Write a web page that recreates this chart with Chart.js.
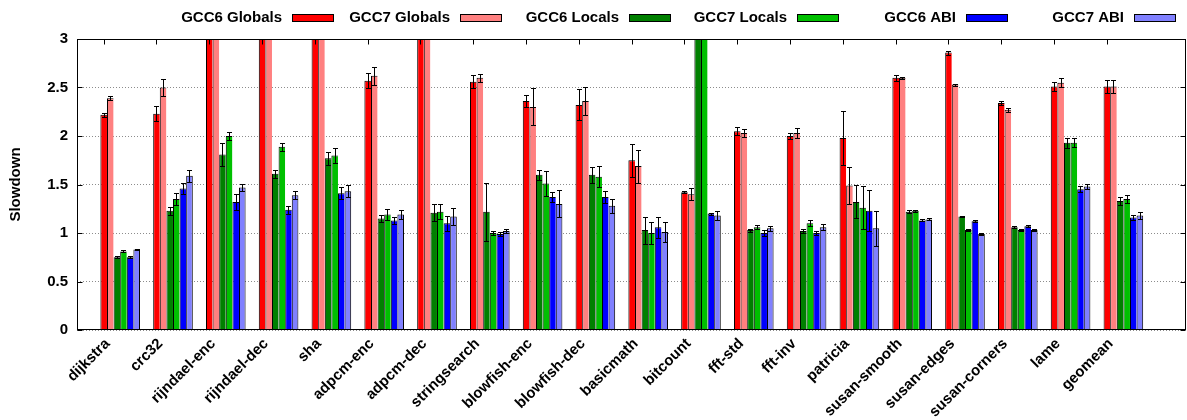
<!DOCTYPE html>
<html>
<head>
<meta charset="utf-8">
<title>Slowdown per benchmark</title>
<script src="https://cdn.jsdelivr.net/npm/chart.js@4.4.1/dist/chart.umd.min.js"></script>
<style>
  html, body { margin: 0; padding: 0; background: #ffffff; }
  #wrap { width: 1187px; height: 420px; position: relative; }
</style>
</head>
<body>
<div id="wrap"><canvas id="chart" width="1187" height="420"></canvas></div>
<script>
// Benchmarks on the x axis
const benchmarks = ['dijkstra', 'crc32', 'rijndael-enc', 'rijndael-dec', 'sha', 'adpcm-enc', 'adpcm-dec',
  'stringsearch', 'blowfish-enc', 'blowfish-dec', 'basicmath', 'bitcount', 'fft-std', 'fft-inv',
  'patricia', 'susan-smooth', 'susan-edges', 'susan-corners', 'lame', 'geomean'];

// Series names
const seriesNames = ['GCC6 Globals', 'GCC7 Globals', 'GCC6 Locals', 'GCC7 Locals', 'GCC6 ABI', 'GCC7 ABI'];

// Mean slowdown per benchmark (values above 3 run off the top of the plot)
const gcc6Globals = [2.22, 2.23, 4.0, 4.0, 4.0, 2.57, 4.0, 2.56, 2.36, 2.32, 1.75, 1.42, 2.05, 2.00, 1.98, 2.60, 2.86, 2.34, 2.51, 2.51];
const gcc7Globals = [2.39, 2.50, 4.2, 4.2, 4.2, 2.62, 4.2, 2.60, 2.30, 2.36, 1.69, 1.40, 2.03, 2.03, 1.49, 2.60, 2.53, 2.27, 2.55, 2.51];
const gcc6Locals  = [0.75, 1.23, 1.81, 1.61, 1.77, 1.15, 1.21, 1.22, 1.60, 1.60, 1.03, 3.3, 1.03, 1.02, 1.32, 1.22, 1.17, 1.06, 1.93, 1.33];
const gcc7Locals  = [0.81, 1.35, 2.00, 1.89, 1.80, 1.19, 1.22, 1.00, 1.51, 1.58, 1.00, 3.3, 1.06, 1.10, 1.26, 1.23, 1.03, 1.03, 1.93, 1.35];
const gcc6Abi     = [0.75, 1.46, 1.32, 1.24, 1.41, 1.13, 1.10, 0.99, 1.37, 1.37, 1.06, 1.20, 1.00, 1.00, 1.23, 1.13, 1.12, 1.07, 1.45, 1.16];
const gcc7Abi     = [0.83, 1.59, 1.47, 1.39, 1.43, 1.19, 1.17, 1.02, 1.30, 1.28, 1.01, 1.18, 1.05, 1.06, 1.05, 1.14, 0.99, 1.03, 1.48, 1.18];

// Error bar half-widths (same order as the means)
const gcc6GlobalsErr = [0.02, 0.08, 0, 0, 0, 0.08, 0, 0.07, 0.06, 0.16, 0.17, 0.01, 0.04, 0.03, 0.28, 0.03, 0.02, 0.02, 0.05, 0.065];
const gcc7GlobalsErr = [0.02, 0.09, 0, 0, 0, 0.09, 0, 0.04, 0.19, 0.14, 0.17, 0.06, 0.04, 0.05, 0.19, 0.01, 0.01, 0.02, 0.05, 0.065];
const gcc6LocalsErr  = [0.01, 0.04, 0.12, 0.04, 0.07, 0.04, 0.09, 0.30, 0.05, 0.08, 0.14, 0, 0.015, 0.02, 0.17, 0.015, 0.01, 0.01, 0.05, 0.045];
const gcc7LocalsErr  = [0.01, 0.06, 0.04, 0.04, 0.08, 0.06, 0.08, 0.02, 0.13, 0.11, 0.11, 0, 0.02, 0.03, 0.22, 0.01, 0.01, 0.01, 0.045, 0.045];
const gcc6AbiErr     = [0.01, 0.06, 0.08, 0.04, 0.06, 0.04, 0.08, 0.025, 0.05, 0.065, 0.11, 0.01, 0.03, 0.025, 0.21, 0.01, 0.01, 0.01, 0.03, 0.03];
const gcc7AbiErr     = [0.01, 0.06, 0.035, 0.04, 0.06, 0.05, 0.09, 0.02, 0.14, 0.075, 0.10, 0.05, 0.025, 0.03, 0.18, 0.01, 0.01, 0.01, 0.025, 0.04];

// Y axis range and step
const yMin = 0, yMax = 3, yStep = 0.5;

const seriesValues = [gcc6Globals, gcc7Globals, gcc6Locals, gcc7Locals, gcc6Abi, gcc7Abi];
const seriesErrors = [gcc6GlobalsErr, gcc7GlobalsErr, gcc6LocalsErr, gcc7LocalsErr, gcc6AbiErr, gcc7AbiErr];
const seriesColors = ['#ff0000', '#ff8080', '#008000', '#00c000', '#0000ff', '#8080ff'];

const FONT = "'Liberation Sans', Arial, Helvetica, sans-serif";

// Each group sits at integer x; the label tick sits under the first bar of the group
const TICK_SHIFT = -0.3125;

const lastSeries = seriesNames.length - 1;
const datasets = seriesNames.map((name, s) => ({
  label: name,
  data: seriesValues[s].map((v, i) => ({ x: i, y: v })),
  errors: seriesErrors[s],
  backgroundColor: seriesColors[s],
  borderColor: '#000000',
  // neighbouring bars share a single outline
  borderWidth: { top: 1, left: 1, right: s === lastSeries ? 1 : 0, bottom: 0 },
  borderSkipped: 'start',
  inflateAmount: 0,
  categoryPercentage: 0.75,
  barPercentage: 1.0
}));

// Vertical error bars with small caps, clipped to the plot
const errorBars = {
  id: 'errorBars',
  afterDatasetsDraw(chart) {
    const { ctx, chartArea: a, scales: { y } } = chart;
    ctx.save();
    ctx.beginPath();
    ctx.rect(a.left, a.top, a.right - a.left, a.bottom - a.top);
    ctx.clip();
    ctx.strokeStyle = '#000000';
    ctx.lineWidth = 1;
    chart.data.datasets.forEach((ds, di) => {
      const meta = chart.getDatasetMeta(di);
      meta.data.forEach((bar, j) => {
        const e = ds.errors[j];
        if (!e) return;
        const v = ds.data[j].y;
        const x = Math.round(bar.x) + 0.5;
        const hi = Math.round(y.getPixelForValue(v + e)) + 0.5;
        const lo = Math.round(y.getPixelForValue(v - e)) + 0.5;
        ctx.beginPath();
        ctx.moveTo(x, hi); ctx.lineTo(x, lo);
        ctx.moveTo(x - 2.5, hi); ctx.lineTo(x + 2.5, hi);
        ctx.moveTo(x - 2.5, lo); ctx.lineTo(x + 2.5, lo);
        ctx.stroke();
      });
    });
    ctx.restore();
  }
};

// Plot border with inward tick marks on all sides
const frame = {
  id: 'frame',
  afterDatasetsDraw(chart) {
    const { ctx, chartArea: a, scales: { x, y } } = chart;
    ctx.save();
    ctx.strokeStyle = '#000000';
    ctx.lineWidth = 1;
    const L = a.left + 0.5, R = a.right - 0.5, T = a.top + 0.5, B = a.bottom - 0.5;
    ctx.strokeRect(L, T, R - L, B - T);
    ctx.beginPath();
    x.ticks.forEach(t => {
      const px = Math.round(x.getPixelForValue(t.value)) + 0.5;
      ctx.moveTo(px, T); ctx.lineTo(px, T + 5);
    });
    y.ticks.forEach(t => {
      const py = Math.round(y.getPixelForValue(t.value)) + 0.5;
      ctx.moveTo(L, py); ctx.lineTo(L + 5, py);
      ctx.moveTo(R, py); ctx.lineTo(R - 5, py);
    });
    ctx.stroke();
    ctx.restore();
  }
};

// Key across the top: name, then a colour swatch
const keyRow = {
  id: 'keyRow',
  afterDraw(chart) {
    const { ctx } = chart;
    const swatchLeft = [292, 460, 629, 797, 966, 1134];
    ctx.save();
    ctx.font = 'bold 15px ' + FONT;
    ctx.textAlign = 'right';
    ctx.textBaseline = 'middle';
    chart.data.datasets.forEach((ds, i) => {
      const sx = swatchLeft[i];
      ctx.fillStyle = '#000000';
      ctx.fillText(ds.label, sx - 10, 18);
      ctx.fillStyle = ds.backgroundColor;
      ctx.fillRect(sx, 14, 42, 8);
      ctx.strokeStyle = '#000000';
      ctx.lineWidth = 1;
      ctx.strokeRect(sx + 0.5, 14.5, 41, 7);
    });
    ctx.restore();
  }
};

new Chart(document.getElementById('chart'), {
  type: 'bar',
  data: { datasets },
  options: {
    responsive: false,
    animation: false,
    layout: { padding: { left: 0, top: 39, right: 1, bottom: 0 } },
    plugins: {
      legend: { display: false },
      tooltip: { enabled: false }
    },
    scales: {
      x: {
        type: 'linear',
        offset: false,
        min: -0.818,
        max: 20.186,
        grid: { display: false, drawTicks: false },
        border: { display: false },
        afterBuildTicks(scale) {
          scale.ticks = benchmarks.map((_, i) => ({ value: i + TICK_SHIFT }));
        },
        afterFit(scale) {
          scale.height = 90;
          scale.paddingLeft = 0; scale.paddingRight = 0;
        },
        ticks: {
          autoSkip: false,
          minRotation: 45,
          maxRotation: 45,
          padding: 5,
          labelOffset: 4,
          color: '#000000',
          font: { family: FONT, size: 15, weight: 'bold' },
          callback: (value, index) => benchmarks[index]
        }
      },
      y: {
        min: yMin,
        max: yMax,
        grid: { color: '#8c8c8c', lineWidth: 1, drawTicks: false },
        border: { display: false, dash: [1, 2] },
        afterFit(scale) {
          scale.width = 77;
          scale.paddingTop = 0; scale.paddingBottom = 0;
        },
        ticks: {
          stepSize: yStep,
          padding: 9,
          color: '#000000',
          font: { family: FONT, size: 15, weight: 'bold' },
          callback: value => String(Number(value.toFixed(2)))
        },
        title: {
          display: true,
          text: 'Slowdown',
          color: '#000000',
          font: { family: FONT, size: 15, weight: 'bold' },
          padding: { top: 7, bottom: 0 }
        }
      }
    }
  },
  plugins: [errorBars, frame, keyRow]
});
</script>
</body>
</html>
